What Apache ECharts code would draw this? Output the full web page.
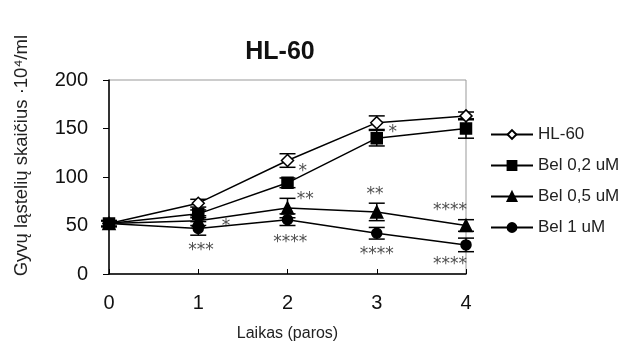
<!DOCTYPE html>
<html style="height: 100%">
<head>
    <meta charset="utf-8" />
    <title>HL-60</title>
    <script type="text/javascript" src="https://cdn.jsdelivr.net/npm/echarts@6/dist/echarts.min.js"></script>
</head>
<body style="height: 100%; margin: 0; background: #fff">
    <div id="container" style="width: 625px; height: 347px"></div>
</body>
</html>
<script type="text/javascript">
    var days = [0, 1, 2, 3, 4];
    var xTicks = ['0', '1', '2', '3', '4'];
    var names = ['HL-60', 'Bel 0,2 uM', 'Bel 0,5 uM', 'Bel 1 uM'];
    var hl60 = [52, 73, 117, 156, 163];
    var bel02 = [52, 62, 94, 140, 150];
    var bel05 = [52, 55, 68, 64, 50];
    var bel1 = [52, 47, 56, 42, 30];
    var hl60Err = [3, 4, 7, 7, 4];
    var bel02Err = [3, 4, 5, 8, 10];
    var bel05Err = [3, 5, 10, 9, 6];
    var bel1Err = [3, 7, 6, 6, 7];
    // significance marks: [x, y, text]
    var marks = [
        [2.17, 110, '*'],
        [2.2, 81, '**'],
        [1.31, 53, '*'],
        [1.03, 28, '***'],
        [2.03, 37, '****'],
        [3.18, 150, '*'],
        [2.98, 86, '**'],
        [3.82, 70, '****'],
        [3.0, 24, '****'],
        [3.82, 14, '****']
    ];

    var values = [hl60, bel02, bel05, bel1];
    var errs = [hl60Err, bel02Err, bel05Err, bel1Err];
    var symbols = ['diamond', 'rect', 'triangle', 'circle'];
    var sizes = [12, 11, 12, 10];

    var dom = document.getElementById("container");
    var myChart = echarts.init(dom);

    var series = [];
    for (var s = 0; s < 4; s++) {
        series.push({
            type: 'custom',
            silent: true,
            z: 3,
            renderItem: function (params, api) {
                var x = api.value(0);
                var lo = api.coord([x, api.value(1)]);
                var hi = api.coord([x, api.value(2)]);
                var w = 8;
                var st = { stroke: '#000', lineWidth: 1.5 };
                return {
                    type: 'group',
                    children: [
                        { type: 'line', shape: { x1: lo[0], y1: lo[1], x2: hi[0], y2: hi[1] }, style: st },
                        { type: 'line', shape: { x1: lo[0] - w, y1: lo[1], x2: lo[0] + w, y2: lo[1] }, style: st },
                        { type: 'line', shape: { x1: hi[0] - w, y1: hi[1], x2: hi[0] + w, y2: hi[1] }, style: st }
                    ]
                };
            },
            data: days.map(function (d, i) {
                return [d, values[s][i] - errs[s][i], values[s][i] + errs[s][i]];
            })
        });
    }
    for (var s = 0; s < 4; s++) {
        series.push({
            name: names[s],
            type: 'line',
            z: 4,
            symbol: symbols[s],
            symbolSize: sizes[s],
            lineStyle: { color: '#000', width: 1.5 },
            itemStyle: { color: s == 0 ? '#fff' : '#000', borderColor: '#000', borderWidth: 1.5 },
            data: days.map(function (d, i) { return [d, values[s][i]]; })
        });
    }
    series.push({
        type: 'scatter',
        symbolSize: 0,
        silent: true,
        z: 5,
        label: {
            show: true,
            position: 'inside',
            offset: [0, 4],
            color: '#222',
            fontFamily: 'DejaVu Sans',
            fontSize: 17,
            formatter: function (p) { return p.value[2]; }
        },
        data: marks
    });

    var option = {
        backgroundColor: '#fff',
        animation: false,
        title: {
            text: 'HL-60',
            left: 275,
            top: 35,
            textAlign: 'center',
            textStyle: { fontFamily: 'Liberation Sans', fontSize: 25, fontWeight: 'bold', color: '#111' }
        },
        legend: {
            orient: 'vertical',
            left: 485,
            top: 121,
            itemWidth: 42,
            itemHeight: 11,
            itemGap: 14,
            data: names,
            textStyle: { fontFamily: 'Liberation Sans', fontSize: 17, color: '#222' }
        },
        grid: {
            left: 109, right: 159, top: 80, bottom: 70,
            show: true, borderColor: '#999', borderWidth: 1
        },
        graphic: [{
            type: 'text',
            left: 12,
            top: 35,
            rotation: Math.PI / 2,
            style: {
                text: 'Gyvų ląstelių skaičius ·10⁴/ml',
                font: '18.5px Liberation Sans',
                fill: '#222'
            }
        }],
        xAxis: {
            type: 'value',
            min: 0, max: 4, interval: 1,
            name: 'Laikas (paros)',
            nameLocation: 'middle',
            nameGap: 52,
            nameTextStyle: { fontFamily: 'Liberation Sans', fontSize: 16, color: '#222' },
            axisLine: { lineStyle: { color: '#000', width: 1.5 } },
            axisTick: { inside: true, length: 5, lineStyle: { color: '#000' } },
            axisLabel: {
                fontFamily: 'Liberation Sans', fontSize: 20, color: '#111', margin: 19,
                formatter: function (v) { return xTicks[v]; }
            },
            splitLine: { show: false }
        },
        yAxis: {
            type: 'value',
            min: 0, max: 200, interval: 50,
            axisLine: { show: true, lineStyle: { color: '#000', width: 1.5 } },
            axisTick: { show: true, length: 6, lineStyle: { color: '#000' } },
            axisLabel: { fontFamily: 'Liberation Sans', fontSize: 20, color: '#111', margin: 21 },
            splitLine: { show: false }
        },
        series: series
    };
    myChart.setOption(option);
</script>
